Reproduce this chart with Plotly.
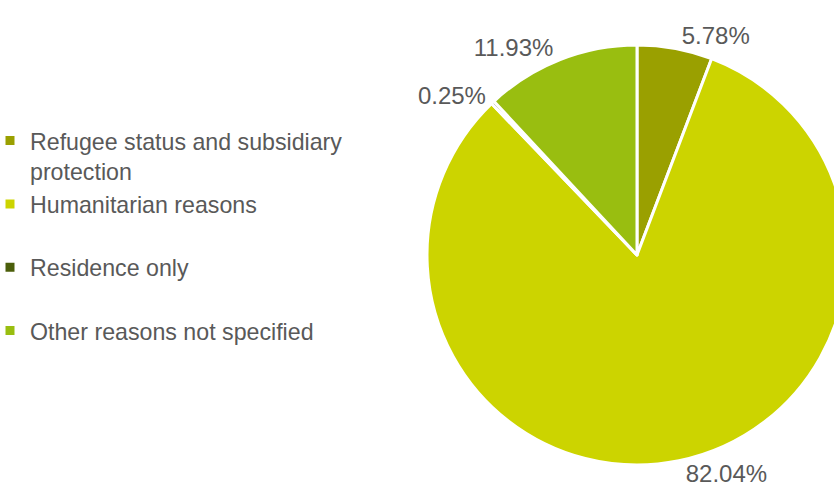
import plotly.graph_objects as go

categories = [
    "Refugee status and subsidiary protection",
    "Humanitarian reasons",
    "Residence only",
    "Other reasons not specified",
]
shares = [5.78, 82.04, 0.25, 11.93]
colors = ["#9AA000", "#CCD400", "#4B5E0A", "#99BE10"]

legend_names = [
    "Refugee status and subsidiary<br>protection",
    "Humanitarian reasons<br>\u00a0",
    "Residence only<br>\u00a0",
    "Other reasons not specified",
]

W, H = 860, 488
cx, cy, r = 637, 255, 210

fig = go.Figure(
    go.Pie(
        labels=legend_names,
        values=shares,
        sort=False,
        direction="clockwise",
        rotation=0,
        marker=dict(colors=colors, line=dict(color="white", width=3)),
        texttemplate="%{value:.2f}%",
        textposition="outside",
        textfont=dict(family="Liberation Sans, Arial", size=24, color="#595959"),
        showlegend=True,
        domain=dict(x=[(cx - r) / W, (cx + r) / W], y=[(H - cy - r) / H, (H - cy + r) / H]),
        automargin=False,
        hoverinfo="label+percent",
    )
)

fig.update_layout(
    width=W,
    height=H,
    margin=dict(l=0, r=0, t=0, b=0, autoexpand=False),
    paper_bgcolor="white",
    plot_bgcolor="white",
    font=dict(family="Liberation Sans, Arial", size=24, color="#595959"),
    legend=dict(
        x=-10 / W,
        xanchor="left",
        y=1 - 119 / H,
        yanchor="top",
        valign="top",
        font=dict(family="Liberation Sans, Arial", size=23.2, color="#595959"),
        bgcolor="rgba(0,0,0,0)",
        tracegroupgap=0,
    ),
)

fig.write_html(
    "out.html",
    config={"displayModeBar": False},
    post_script="document.body.style.margin='0';document.body.style.overflow='hidden';",
)
